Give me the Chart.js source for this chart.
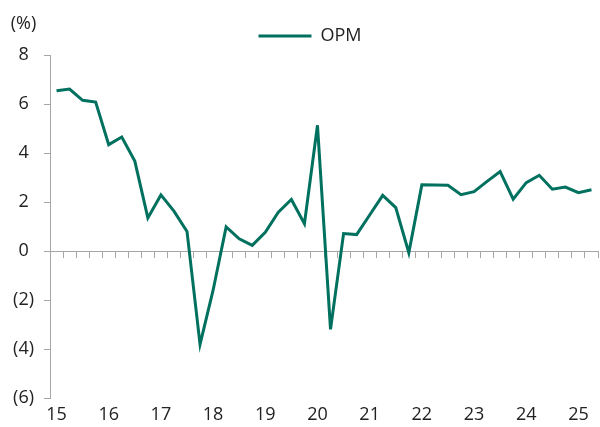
<!DOCTYPE html>
<html>
<head>
<meta charset="utf-8">
<script src="https://cdn.jsdelivr.net/npm/chart.js@4"></script>
<style>
  body { margin: 0; background: #fff; }
  #wrap { width: 600px; height: 427px; position: relative; }
</style>
</head>
<body>
<div id="wrap"><canvas id="chart"></canvas></div>
<script>
const quarters = [
    '1Q15', '2Q15', '3Q15', '4Q15', '1Q16', '2Q16', '3Q16', '4Q16',
    '1Q17', '2Q17', '3Q17', '4Q17', '1Q18', '2Q18', '3Q18', '4Q18',
    '1Q19', '2Q19', '3Q19', '4Q19', '1Q20', '2Q20', '3Q20', '4Q20',
    '1Q21', '2Q21', '3Q21', '4Q21', '1Q22', '2Q22', '3Q22', '4Q22',
    '1Q23', '2Q23', '3Q23', '4Q23', '1Q24', '2Q24', '3Q24', '4Q24',
    '1Q25', '2Q25'
];
const yearLabels = ['15', '16', '17', '18', '19', '20', '21', '22', '23', '24', '25'];
const opm = [
    6.54, 6.61, 6.15, 6.08, 4.34, 4.65, 3.67, 1.35,
    2.29, 1.63, 0.80, -3.81, -1.60, 0.98, 0.50, 0.23,
    0.76, 1.58, 2.10, 1.11, 5.13, -3.20, 0.71, 0.67,
    1.47, 2.27, 1.77, -0.07, 2.70, 2.69, 2.68, 2.30,
    2.42, 2.84, 3.24, 2.12, 2.79, 3.09, 2.52, 2.61,
    2.38, 2.50
];

const FONT = { family: "'Open Sans', sans-serif", size: 18 };
const TEXT = '#222';
const AXIS = '#a6a6a6';

// "(%)" unit label above the y axis + nudge the legend a bit right
const extras = {
    id: 'extras',
    afterLayout(chart) {
        chart.legend.left += 11;
        chart.legend.right += 11;
    },
    afterDraw(chart) {
        const c = chart.ctx;
        c.save();
        c.font = "18px 'Open Sans', sans-serif";
        c.fillStyle = TEXT;
        c.textAlign = 'center';
        c.textBaseline = 'middle';
        c.fillText('(%)', 23.5, chart.chartArea.top - 31);
        c.restore();
    }
};

const ctx = document.getElementById('chart').getContext('2d');

const chart = new Chart(ctx, {
    type: 'line',
    data: {
        labels: quarters,
        datasets: [{
            label: 'OPM',
            data: opm,
            borderColor: '#00705f',
            backgroundColor: '#00705f',
            borderWidth: 3,
            pointRadius: 0,
            tension: 0
        }]
    },
    options: {
        responsive: true,
        maintainAspectRatio: false,
        animation: false,
        layout: { padding: { top: 17, bottom: 1, left: 0, right: 2 } },
        plugins: {
            tooltip: { enabled: false },
            legend: {
                position: 'top',
                labels: {
                    usePointStyle: true,
                    pointStyle: 'line',
                    boxWidth: 53,
                    pointStyleWidth: 53,
                    boxHeight: 18,
                    padding: 10,
                    color: TEXT,
                    font: FONT
                }
            }
        },
        scales: {
            x: {
                type: 'category',
                offset: true,
                grid: { display: false, drawTicks: false },
                border: { display: false },
                afterFit: s => { s.height = 28; },
                ticks: {
                    autoSkip: false,
                    maxRotation: 0,
                    padding: 6,
                    color: TEXT,
                    font: FONT,
                    callback: (v, i) => (i % 4 === 0 ? yearLabels[i / 4] : '')
                }
            },
            x2: {
                type: 'category',
                position: { y: 0 },
                offset: true,
                grid: { offset: true, drawOnChartArea: false, tickLength: 6, color: AXIS },
                border: { color: AXIS, width: 1 },
                ticks: { display: false, autoSkip: false }
            },
            y: {
                min: -6,
                max: 8,
                grid: { drawOnChartArea: false, tickLength: 6, color: AXIS },
                border: { color: AXIS, width: 1 },
                afterFit: s => { s.width = 50; },
                ticks: {
                    stepSize: 2,
                    padding: 10,
                    crossAlign: 'center',
                    color: TEXT,
                    font: FONT,
                    callback: v => (v < 0 ? '(' + (-v) + ')' : String(v))
                }
            }
        }
    },
    plugins: [extras]
});
</script>
</body>
</html>
